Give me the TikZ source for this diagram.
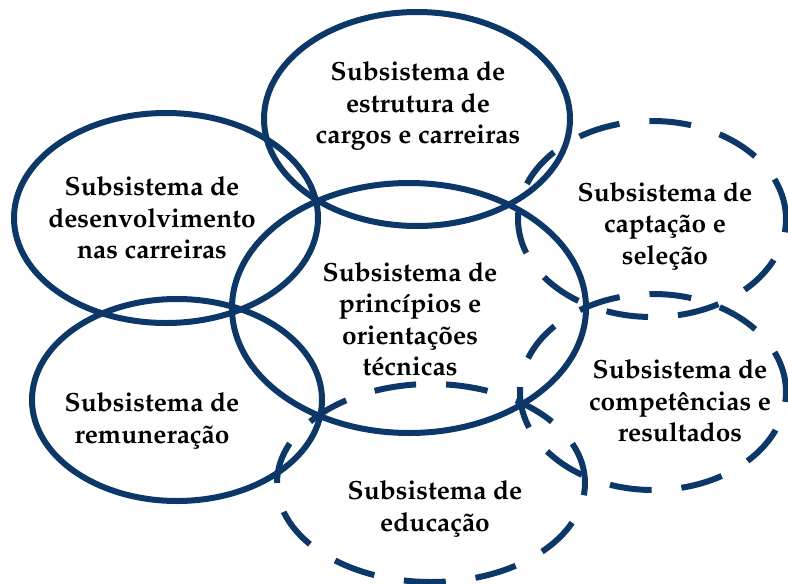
\documentclass[tikz,border=0pt]{standalone}
\usepackage[T1]{fontenc}
\usepackage{mathpazo}
\usetikzlibrary{positioning}
\definecolor{navy}{RGB}{12,55,105}
\tikzset{ring/.style={draw=navy, line width=6pt}}
\tikzset{dashring/.style={ring, dash pattern=on 42pt off 30pt}}
\tikzset{subtext/.style={align=center, inner sep=0pt, text=black,
    font=\bfseries\fontsize{26.3}{31.5}\selectfont}}

\begin{document}
\begin{tikzpicture}[x=1pt, y=-1pt]
    \useasboundingbox (0,0) rectangle (788,584);

    % solid rings
    \draw[ring] (417,119) ellipse [x radius=153pt, y radius=107pt];
    \draw[ring] (166,218) ellipse [x radius=152pt, y radius=105pt];
    \draw[ring] (409,308) ellipse [x radius=177pt, y radius=125pt];
    \draw[ring] (177,400) ellipse [x radius=145pt, y radius=101pt];

    % dashed rings
    \draw[dashring] (652,219) ellipse [x radius=134pt, y radius=98pt];
    \draw[dashring] (653,392) ellipse [x radius=133pt, y radius=98pt];
    \draw[dashring] (431,483) ellipse [x radius=154pt, y radius=99pt];

    \node[subtext] (cargos) at (418,106) {Subsistema de\\estrutura de\\cargos e carreiras};
    \node[subtext] (desenv) at (152,218) {Subsistema de\\desenvolvimento\\nas carreiras};
    \node[subtext] (princ) at (410,319) {Subsistema de\\princ\'{\i}pios e\\orienta\c{c}\~oes\\t\'ecnicas};
    \node[subtext] (remun) at (152,421) {Subsistema de\\remunera\c{c}\~ao};
    \node[subtext] (capt) at (665,226) {Subsistema de\\capta\c{c}\~ao e\\sele\c{c}\~ao};
    \node[subtext] (compet) at (680,401) {Subsistema de\\compet\^encias e\\resultados};
    \node[subtext] (educ) at (435,509) {Subsistema de\\educa\c{c}\~ao};
\end{tikzpicture}
\end{document}
